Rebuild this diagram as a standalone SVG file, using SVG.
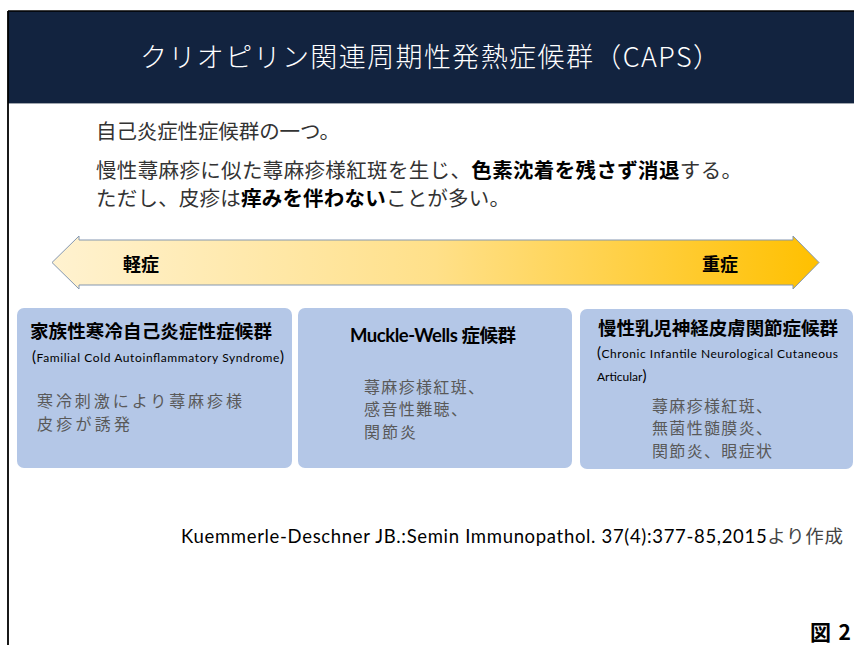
<svg xmlns="http://www.w3.org/2000/svg" width="854" height="645" viewBox="0 0 854 645">
<defs>
<linearGradient id="sev" x1="0" y1="0" x2="1" y2="0">
<stop offset="0" stop-color="#FFF2D0"/>
<stop offset="0.5" stop-color="#FFE089"/>
<stop offset="1" stop-color="#FFC000"/>
</linearGradient>
<style>
.jp{font-family:"Noto Sans CJK JP","Noto Sans",sans-serif;}
.lat{font-family:Lato,"Open Sans","Noto Sans CJK JP",sans-serif;}
.box{fill:#B4C7E7;}
.ttl{font-size:18.5px;font-weight:bold;fill:#000;}
.sub{font-size:12px;fill:#000;}
.par{font-size:15px;}
.body{font-size:16px;fill:#595959;}
.intro{font-size:20.5px;fill:#333;}
.b{font-weight:bold;fill:#000;}
</style>
</defs>
<rect x="0" y="0" width="854" height="645" fill="#fff"/>
<g id="header">
<rect x="8" y="11" width="846" height="92" fill="#12233F"/>
<line x1="8" y1="11" x2="854" y2="11" stroke="#000" stroke-width="1.5"/>
<line x1="8" y1="103.5" x2="854" y2="103.5" stroke="#A0A6AE" stroke-width="1"/>
<text x="430" y="67" text-anchor="middle" class="jp" font-size="27" font-weight="300" fill="#fff" textLength="580">クリオピリン関連周期性発熱症候群（CAPS）</text>
</g>
<line x1="8" y1="11" x2="8" y2="645" stroke="#000" stroke-width="1.8"/>
<g id="intro" class="jp">
<text x="96" y="139" class="intro" textLength="244">自己炎症性症候群の一つ。</text>
<text x="96" y="178" class="intro" textLength="646">慢性蕁麻疹に似た蕁麻疹様紅斑を生じ、<tspan class="b">色素沈着を残さず消退</tspan>する。</text>
<text x="96" y="206" class="intro" textLength="414">ただし、皮疹は<tspan class="b">痒みを伴わない</tspan>ことが多い。</text>
</g>
<g id="severity-arrow">
<path d="M52,262.5 L79,236 L79,240 L793,240 L793,236 L819,262.5 L793,289 L793,285 L79,285 L79,289 Z" fill="url(#sev)" stroke="#8497B0" stroke-width="1"/>
<text x="123" y="271" class="jp" font-size="18" font-weight="bold" fill="#000">軽症</text>
<text x="702" y="271" class="jp" font-size="18" font-weight="bold" fill="#000">重症</text>
</g>
<g id="fcas">
<rect x="17" y="308" width="275" height="160" rx="7" class="box"/>
<text x="30" y="338" class="jp ttl" textLength="242">家族性寒冷自己炎症性症候群</text>
<text x="32" y="362" class="lat sub" textLength="252"><tspan class="par">(</tspan>Familial Cold Autoinflammatory Syndrome<tspan class="par">)</tspan></text>
<text x="37" y="407" class="jp body" textLength="205">寒冷刺激により蕁麻疹様</text>
<text x="37" y="430" class="jp body" textLength="93">皮疹が誘発</text>
</g>
<g id="mws">
<rect x="298" y="308" width="274" height="160" rx="7" class="box"/>
<text x="350" y="342" class="lat ttl" font-size="17.5" textLength="166">Muckle-Wells <tspan class="jp">症候群</tspan></text>
<text x="364" y="393" class="jp body" textLength="120">蕁麻疹様紅斑、</text>
<text x="364" y="415" class="jp body" textLength="103">感音性難聴、</text>
<text x="364" y="438" class="jp body" textLength="52">関節炎</text>
</g>
<g id="cinca">
<rect x="580" y="309" width="273" height="160" rx="7" class="box"/>
<text x="598" y="335" class="jp ttl" textLength="240">慢性乳児神経皮膚関節症候群</text>
<text x="597" y="358" class="lat sub" textLength="241"><tspan class="par">(</tspan>Chronic Infantile Neurological Cutaneous</text>
<text x="597" y="381" class="lat sub"><tspan>Articular</tspan><tspan class="par">)</tspan></text>
<text x="652" y="412" class="jp body" textLength="120">蕁麻疹様紅斑、</text>
<text x="652" y="434" class="jp body" textLength="120">無菌性髄膜炎、</text>
<text x="652" y="457" class="jp body" textLength="120">関節炎、眼症状</text>
</g>
<g id="citation">
<text x="181" y="543" class="lat" font-size="18.5" fill="#000" textLength="662">Kuemmerle-Deschner JB.:Semin Immunopathol. 37(4):377-85,2015<tspan class="jp" fill="#444">より作成</tspan></text>
</g>
<text x="810" y="640" class="jp" font-size="21" font-weight="bold" fill="#000" textLength="41">図2</text>
</svg>
